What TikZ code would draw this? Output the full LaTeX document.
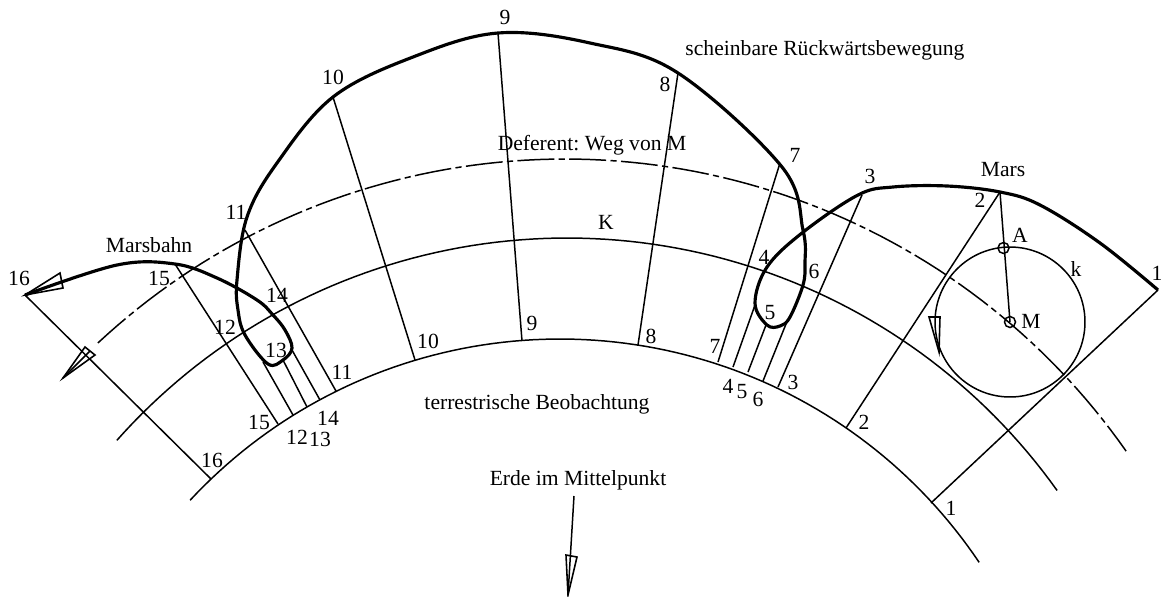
\documentclass[tikz,border=0pt]{standalone}
\usepackage{fontspec}
\setmainfont{Liberation Serif}
\usepackage{tikz}

\begin{document}
\begin{tikzpicture}[
    x=0.02cm, y=-0.02cm,
    line width=0.85pt,
    lbl/.style={inner sep=0pt, font=\fontsize{12.3}{14}\selectfont\frenchspacing},
    bahn/.style={line width=1.8pt, line join=round},
    dashdot/.style={dash pattern=on 21pt off 2.5pt on 3.5pt off 2.5pt},
    head/.style={line width=0.9pt, line join=miter},
    epizykel/.style={draw, circle, inner sep=0pt, minimum size=3cm},
    punkt/.style={draw, circle, inner sep=0pt, minimum size=0.22cm}
]

    \useasboundingbox (0,0) rectangle (1163,596);

    % Die drei Kreisboegen um die Erde
    \draw plot[domain=222.9:326.1, samples=90] ({560+505*cos(\x)},{844+505*sin(\x)});
    \draw plot[domain=221.6:324.5, samples=90] ({567+602*cos(\x)},{840+602*sin(\x)});
    \draw [dashdot] plot[domain=227:325, samples=90] ({565+685*cos(\x)},{844+685*sin(\x)});

    % Strahlen von der Bahn auf den inneren Bogen
    \foreach \n/\ox/\oy/\ix/\iy in {1/1158/290/931/503, 2/1000/192/846/428, 3/862/195/778/387,
        4/755/305/733/367, 5/766/325/748/372, 6/786/324/763/381, 7/780/163/718/362,
        8/678/73/638/345, 9/498/33/522/341, 10/333/97/415/360, 11/245/230/336/391,
        12/263/362/293/415, 13/283/360/307/407, 14/292/350/320/400, 15/175/264/278/424,
        16/25/295/211/479} {
        \coordinate (o\n) at (\ox,\oy);
        \coordinate (i\n) at (\ix,\iy);
        \draw (o\n) -- (i\n);
    }

    % Marsbahn mit Schleifen
    \draw [bahn] plot[smooth, tension=0.6] coordinates {(1158,290) (1100,243) (1040,205) (1000,192)
        (947,186) (893,187) (858,195) (802,233) (767,267) (755,303)
        (767,325) (780,326) (790,317) (803,285) (805,263) (803,230)
        (782,167) (678,73) (590,43) (498,33)
        (413,57) (333,97) (277,163) (247,217)
        (237,280) (238,310) (245,335) (268,364) (283,360) (292,348) (285,330) (273,315)
        (257,300) (217,278) (175,264) (117,265) (25,295)};

    % Epizykel und Punkte
    \node [epizykel] (k) at (1010,322) {};
    \node [punkt] (M) at (1010,322) {};
    \node [punkt] (A) at (1003.5,248) {};
    \draw (o2) -- (M.center);

    % Pfeilspitzen
    \coordinate (bahnA) at (60,273);
    \coordinate (bahnB) at (63,288);
    \draw [head] (o16) -- (bahnA) -- (bahnB) -- cycle;
    \coordinate (kS) at (939,352);
    \coordinate (kA) at (929,317);
    \coordinate (kB) at (940,317);
    \draw [head] (kS) -- (kA) -- (kB) -- cycle;
    \coordinate (defS) at (63,378);
    \coordinate (defA) at (85,347);
    \coordinate (defB) at (95,355);
    \coordinate (defC) at (90,351);
    \draw [head] (defS) -- (defA) -- (defB) -- cycle;
    \draw [head] (defS) -- (defC);
    \coordinate (erdeO) at (574,496);
    \coordinate (erdeS) at (568,595);
    \coordinate (erdeA) at (566,555);
    \coordinate (erdeB) at (577,557);
    \draw (erdeO) -- (erdeS);
    \draw [head] (erdeS) -- (erdeA) -- (erdeB) -- cycle;

    % Beschriftungen
    \foreach \n/\x/\y in {1/1157/273, 2/980/200, 3/870/176, 4/764/257, 5/770/313, 6/814/271, 7/795/155,
        8/665/84, 9/505/17, 10/333/77, 11/236/212, 12/225/327, 13/276/350, 14/277/295, 15/159/278, 16/19/278} {
        \node [lbl] (ou\n) at (\x,\y) {\n};
    }
    \foreach \n/\x/\y in {1/951/508, 2/864/422, 3/793/382, 4/728/386, 5/742/392, 6/758/399, 7/715/346,
        8/651/336, 9/532/323, 10/428/341, 11/342/372, 12/297/437, 13/320/439, 14/328/418, 15/259/422, 16/212/460} {
        \node [lbl] (in\n) at (\x,\y) {\n};
    }
    \node [lbl] (rueck) at (825,50) {scheinbare Rückwärtsbewegung};
    \node [lbl] (mars) at (1003,170) {Mars};
    \node [lbl] (deferent) at (592,145) {Deferent: Weg von M};
    \node [lbl] (kk) at (606,222) {K};
    \node [lbl] (lA) at (1020,235) {A};
    \node [lbl] (lk) at (1076,269) {k};
    \node [lbl] (lM) at (1031,321) {M};
    \node [lbl] (marsbahn) at (149,245) {Marsbahn};
    \node [lbl] (terr) at (537,404) {terrestrische Beobachtung};
    \node [lbl] (erde) at (578,480) {Erde im Mittelpunkt};

\end{tikzpicture}
\end{document}
